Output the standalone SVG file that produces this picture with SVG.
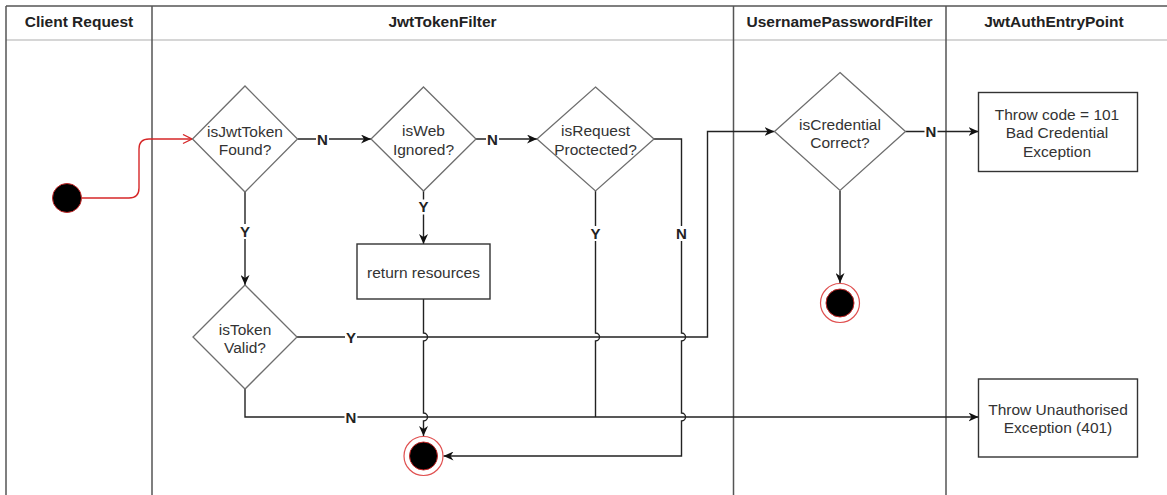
<svg xmlns="http://www.w3.org/2000/svg" width="1167" height="495" viewBox="0 0 1167 495">
<defs>
<marker id="arr" markerUnits="userSpaceOnUse" markerWidth="11" markerHeight="9" refX="10" refY="4.5" orient="auto" viewBox="0 0 11 9">
<path d="M0,0 L10,4.5 L0,9 L3,4.5 Z" fill="#111"/>
</marker>
<marker id="arrRed" markerUnits="userSpaceOnUse" markerWidth="11" markerHeight="11" refX="10" refY="5.5" orient="auto" viewBox="0 0 11 11">
<path d="M1,1 L10,5.5 L1,10" fill="none" stroke="#d62728" stroke-width="1.3"/>
</marker>
<style>
.lane{stroke:#555;stroke-width:1.5;fill:none}
.hdr{stroke:#c8c8c8;stroke-width:1.5;fill:none}
.hd{font-family:'Liberation Sans',Arial,sans-serif;font-weight:bold;font-size:15.5px;fill:#222;text-anchor:middle}
.t{font-family:'Liberation Sans',Arial,sans-serif;font-size:15.5px;fill:#333;text-anchor:middle}
.lb{font-family:'Liberation Sans',Arial,sans-serif;font-weight:bold;font-size:15px;fill:#222;text-anchor:middle}
.dia{fill:#fff;stroke:#6e6e6e;stroke-width:1.3}
.box{fill:#fff;stroke:#333;stroke-width:1.4}
.c{fill:none;stroke:#222;stroke-width:1.4}
.red{fill:none;stroke:#d62728;stroke-width:1.4}
.lbg{fill:#fff}
.endo{fill:#fff;stroke:#e05050;stroke-width:1.2}
.endi{fill:#000;stroke:#c62828;stroke-width:1}
</style>
</defs>
<g id="pool">
<line class="hdr" x1="6" y1="40" x2="1167" y2="40"/>
<line class="lane" x1="6" y1="6" x2="1167" y2="6"/>
<line class="lane" x1="6" y1="6" x2="6" y2="495"/>
<line class="lane" x1="152" y1="6" x2="152" y2="495"/>
<line class="lane" x1="733.5" y1="6" x2="733.5" y2="495"/>
<line class="lane" x1="946" y1="6" x2="946" y2="495"/>
<text class="hd" x="79" y="27">Client Request</text>
<text class="hd" x="442.5" y="27">JwtTokenFilter</text>
<text class="hd" x="839.5" y="27">UsernamePasswordFilter</text>
<text class="hd" x="1054" y="27">JwtAuthEntryPoint</text>
</g>
<g id="connectors">
<path class="red" d="M82,198 H129 Q139,198 139,188 V149 Q139,139 149,139 H192" marker-end="url(#arrRed)"/>
<path class="c" d="M297.5,139 H371" marker-end="url(#arr)"/>
<path class="c" d="M476,139 H537" marker-end="url(#arr)"/>
<path class="c" d="M245,192 V285" marker-end="url(#arr)"/>
<path class="c" d="M423.5,191 V244" marker-end="url(#arr)"/>
<path class="c" d="M423.5,299 V333 A4,4 0 0 1 423.5,341 V413 A4,4 0 0 1 423.5,421 V436" marker-end="url(#arr)"/>
<path class="c" d="M595.5,191 V333 A4,4 0 0 1 595.5,341 V417"/>
<path class="c" d="M654,139 H681.5 V333 A4,4 0 0 1 681.5,341 V413 A4,4 0 0 1 681.5,421 V456 H443.5" marker-end="url(#arr)"/>
<path class="c" d="M297,337 H707.5 V131.5 H774.5" marker-end="url(#arr)"/>
<path class="c" d="M245,389 V417 H978.5" marker-end="url(#arr)"/>
<path class="c" d="M905.5,131.5 H978.5" marker-end="url(#arr)"/>
<path class="c" d="M840,190.5 V283" marker-end="url(#arr)"/>
<g id="labels">
<rect class="lbg" x="316" y="132" width="13" height="14"/><text class="lb" x="322.5" y="144.5">N</text>
<rect class="lbg" x="486" y="132" width="13" height="14"/><text class="lb" x="492.5" y="144.5">N</text>
<rect class="lbg" x="239" y="224" width="12" height="15"/><text class="lb" x="245" y="237">Y</text>
<rect class="lbg" x="417.5" y="199.5" width="12" height="15"/><text class="lb" x="423.5" y="212">Y</text>
<rect class="lbg" x="589.5" y="226" width="12" height="15"/><text class="lb" x="595.5" y="238.5">Y</text>
<rect class="lbg" x="675" y="226" width="13" height="15"/><text class="lb" x="681.5" y="238.5">N</text>
<rect class="lbg" x="345" y="330" width="12" height="14"/><text class="lb" x="351" y="342.5">Y</text>
<rect class="lbg" x="344.5" y="410" width="13" height="14"/><text class="lb" x="351" y="422.5">N</text>
<rect class="lbg" x="924.5" y="124.5" width="13" height="14"/><text class="lb" x="931" y="137">N</text>
</g>
</g>
<g id="start"><circle cx="67" cy="198" r="14.5" fill="#000" stroke="#c62828" stroke-width="1"/></g>
<g id="isJwtTokenFound">
<polygon class="dia" points="245,86 297.5,139 245,192 192.5,139"/>
<text class="t" x="245" y="136.5">isJwtToken</text>
<text class="t" x="245" y="154.5">Found?</text>
</g>
<g id="isWebIgnored">
<polygon class="dia" points="423.5,87 476,139 423.5,191 371,139"/>
<text class="t" x="423.5" y="136">isWeb</text>
<text class="t" x="423.5" y="155">Ignored?</text>
</g>
<g id="isRequestProtected">
<polygon class="dia" points="595.5,87 654,139 595.5,191 537,139"/>
<text class="t" x="595.5" y="136">isRequest</text>
<text class="t" x="595.5" y="154.5">Proctected?</text>
</g>
<g id="returnResources">
<rect class="box" x="357" y="244" width="133" height="55"/>
<text class="t" x="423.5" y="277.5">return resources</text>
</g>
<g id="isTokenValid">
<polygon class="dia" points="245,285 297,337 245,389 193,337"/>
<text class="t" x="245" y="334.5">isToken</text>
<text class="t" x="245" y="352.5">Valid?</text>
</g>
<g id="endLeft">
<circle class="endo" cx="423.5" cy="456" r="19.5"/>
<circle class="endi" cx="423.5" cy="456" r="14"/>
</g>
<g id="isCredentialCorrect">
<polygon class="dia" points="840,72.5 905.5,131.5 840,190.5 774.5,131.5"/>
<text class="t" x="840" y="129.5">isCredential</text>
<text class="t" x="840" y="148">Correct?</text>
</g>
<g id="endRight">
<circle class="endo" cx="840" cy="303" r="19.5"/>
<circle class="endi" cx="840" cy="303" r="14"/>
</g>
<g id="throw101">
<rect class="box" x="978.5" y="92.5" width="159" height="79"/>
<text class="t" x="1057" y="119.5">Throw code = 101</text>
<text class="t" x="1057" y="138">Bad Credential</text>
<text class="t" x="1057" y="157">Exception</text>
</g>
<g id="throw401">
<rect class="box" x="978.5" y="379" width="159" height="78"/>
<text class="t" x="1058" y="414.5">Throw Unauthorised</text>
<text class="t" x="1058" y="432.5">Exception (401)</text>
</g>
</svg>
